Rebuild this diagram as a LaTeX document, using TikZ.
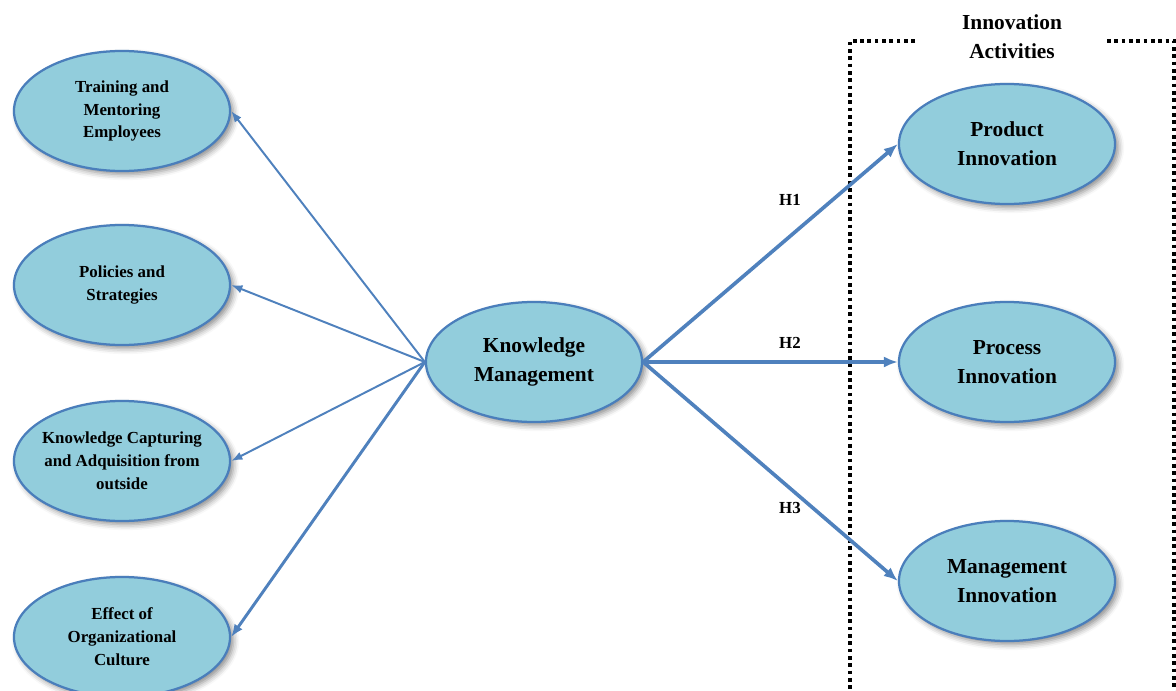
\documentclass[tikz,border=0pt]{standalone}
\usepackage{fontspec}
\setmainfont{Liberation Serif}
\usetikzlibrary{shapes.geometric,arrows.meta,shadows.blur}
\definecolor{ellfill}{HTML}{92CDDC}
\definecolor{elldraw}{HTML}{4A7EBB}
\definecolor{arrblue}{HTML}{4F81BD}
\begin{document}
\begin{tikzpicture}[x=0.025cm,y=-0.025cm,
  ell/.style={ellipse, draw=elldraw, line width=1.6pt, fill=ellfill,
    minimum width=5.4cm, minimum height=3cm, inner sep=0pt, align=center,
    blur shadow={shadow xshift=2.5pt, shadow yshift=-2.5pt, shadow blur radius=4pt, shadow opacity=45}},
  smalltxt/.style={font=\bfseries\fontsize{12}{16.3}\selectfont},
  bigtxt/.style={font=\bfseries\fontsize{15.2}{20.5}\selectfont},
  thinarr/.style={draw=arrblue, line width=1.4pt, -{Latex[length=8pt,width=6pt]}},
  midarr/.style={draw=arrblue, line width=2.1pt, -{Latex[length=9pt,width=7pt]}},
  thickarr/.style={draw=arrblue, line width=2.6pt, -{Latex[length=10pt,width=8pt]}},
  dotbox/.style={draw=black, line width=2.6pt, dash pattern=on 2.6pt off 2.6pt},
  hlab/.style={font=\bfseries\fontsize{12}{14}\selectfont}
]
\useasboundingbox (0,0) rectangle (1176,690);
% dotted box
\draw[dotbox] (915,41) -- (850,41) -- (850,702);
\draw[dotbox] (1107,41) -- (1174,41) -- (1174,702);
\node[bigtxt, align=center] (title) at (1012,37) {Innovation\\Activities};
% left ellipses
\node[ell, smalltxt] (t1) at (122,111) {Training and\\Mentoring\\Employees};
\node[ell, smalltxt] (t2) at (122,285) {Policies and\\Strategies};
\node[ell, smalltxt, inner xsep=-14pt] (t3) at (122,461) {Knowledge Capturing\\and Adquisition from\\outside};
\node[ell, smalltxt] (t4) at (122,637) {Effect of\\Organizational\\Culture};
% center
\node[ell, bigtxt] (km) at (534,362) {Knowledge\\Management};
% right
\node[ell, bigtxt] (p1) at (1007,144) {Product\\Innovation};
\node[ell, bigtxt] (p2) at (1007,362) {Process\\Innovation};
\node[ell, bigtxt] (p3) at (1007,581) {Management\\Innovation};
% arrows
\draw[thinarr] (km.west) -- (t1.east);
\draw[thinarr] (km.west) -- (t2.east);
\draw[thinarr] (km.west) -- (t3.east);
\draw[midarr] (km.west) -- (t4.east);
\draw[thickarr] (km.east) -- (p1.west);
\draw[thickarr] (km.east) -- (p2.west);
\draw[thickarr] (km.east) -- (p3.west);
% labels
\node[hlab] (h1) at (790,200) {H1};
\node[hlab] (h2) at (790,343) {H2};
\node[hlab] (h3) at (790,508) {H3};
\end{tikzpicture}
\end{document}
